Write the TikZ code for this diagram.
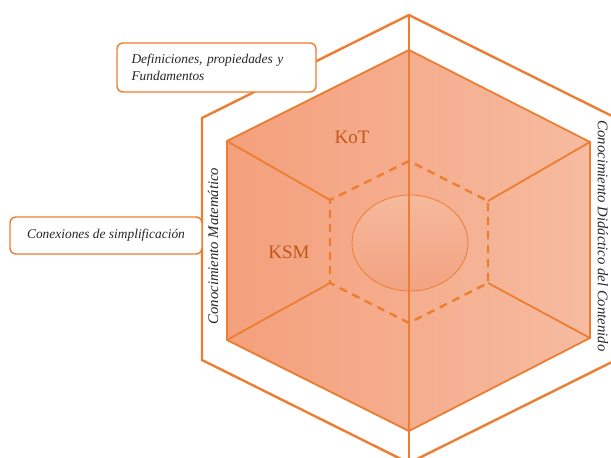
\documentclass[tikz,border=0pt]{standalone}
\usepackage{fontspec}
\setmainfont{Liberation Serif}
\usetikzlibrary{calc,shapes.geometric}
\definecolor{orst}{HTML}{ED7D31}
\definecolor{fillL}{HTML}{F4A07C}
\definecolor{fillR}{HTML}{F6BBA0}
\definecolor{elT}{HTML}{F6B99C}
\definecolor{elB}{HTML}{F2A382}
\definecolor{kt}{HTML}{C0581A}
\definecolor{txt}{HTML}{262626}
\tikzset{
  outerhex/.style={draw=orst,line width=2.4pt,fill=white,line join=miter},
  innerhex/.style={draw=orst,line width=1.8pt,left color=fillL,right color=fillR,shading angle=90},
  spoke/.style={draw=orst,line width=1.8pt},
  dashhex/.style={draw=orst,line width=2.4pt,dash pattern=on 8pt off 6pt},
  labelbox/.style={draw=orst,line width=1.4pt,fill=white,rounded corners=6pt,font=\fontsize{13.4}{16.5}\selectfont\itshape,text=txt},
  ktext/.style={text=kt,font=\fontsize{19}{22}\selectfont},
  sidetext/.style={text=txt,font=\fontsize{14.7}{17}\selectfont\itshape}
}
\begin{document}
\begin{tikzpicture}[x=1pt,y=-1pt]
\useasboundingbox (0,0) rectangle (611,458);
\clip (0,0) rectangle (611,458);
% outer hexagon
\coordinate (oT) at (409,15);
\coordinate (oUL) at (202,118);
\coordinate (oLL) at (202,360);
\coordinate (oB) at (409,463);
\coordinate (oLR) at (616,360);
\coordinate (oUR) at (616,118);
\draw[outerhex] (oT) -- (oUL) -- (oLL) -- (oB) -- (oLR) -- (oUR) -- cycle;
% inner hexagon
\coordinate (iT) at (409,50);
\coordinate (iUL) at (227,141);
\coordinate (iLL) at (227,340);
\coordinate (iB) at (409,431);
\coordinate (iLR) at (590,338);
\coordinate (iUR) at (590,142);
\path[innerhex] (iT) -- (iUL) -- (iLL) -- (iB) -- (iLR) -- (iUR) -- cycle;
% dashed hexagon
\coordinate (dT) at (409,161);
\coordinate (dUL) at (330,200);
\coordinate (dLL) at (330,283);
\coordinate (dB) at (409,323);
\coordinate (dLR) at (488,283);
\coordinate (dUR) at (488,201);
% ellipse
\node[ellipse,minimum width=116pt,minimum height=96pt,draw=orst,line width=0.8pt,top color=elT,bottom color=elB,inner sep=0pt] (core) at (410,243) {};
\draw[dashhex] (dT) -- (dUL) -- (dLL) -- (dB) -- (dLR) -- (dUR) -- cycle;
% spokes
\draw[spoke] (iUL) -- (dUL);
\draw[spoke] (iLL) -- (dLL);
\draw[spoke] (iUR) -- (dUR);
\draw[spoke] (iLR) -- (dLR);
\draw[spoke,line width=1.6pt] (oT) -- (oB);
% texts
\node[ktext] (kot) at (352,137) {KoT};
\node[ktext] (ksm) at (289,252) {KSM};
\node[sidetext,rotate=90] (cm) at (213,246) {Conocimiento Matemático};
\node[sidetext,rotate=-90] (cdc) at (603,236) {Conocimiento Didáctico del Contenido};
% label boxes
\node[labelbox,minimum width=199pt,minimum height=49pt,align=left,text width=170pt,inner sep=0pt] (def) at (216.5,67.5) {Definiciones, propiedades y\\Fundamentos};
\node[labelbox,minimum width=192pt,minimum height=37pt,align=center,inner sep=0pt] (con) at (106,235.5) {Conexiones de simplificación};
\end{tikzpicture}
\end{document}
